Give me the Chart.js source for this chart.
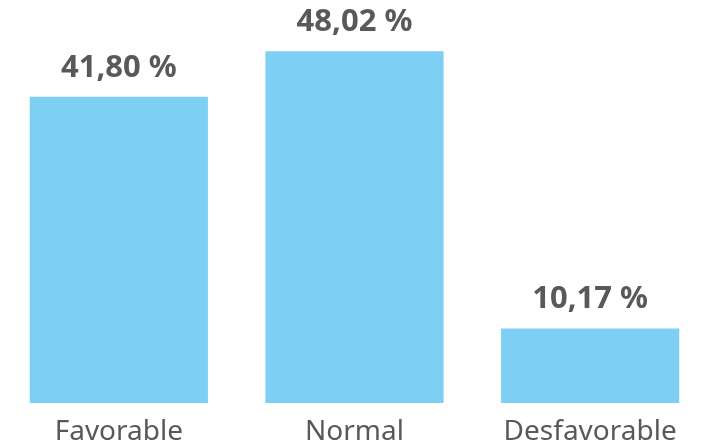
<!DOCTYPE html>
<html>
<head>
<meta charset="utf-8">
<script src="https://cdn.jsdelivr.net/npm/chart.js@4"></script>
<style>
html,body{margin:0;padding:0;background:#fff;}
#wrap{width:709px;height:444px;position:relative;}
</style>
</head>
<body>
<div id="wrap"><canvas id="c"></canvas></div>
<script>
const categories = ["Favorable", "Normal", "Desfavorable"];
const values = [41.80, 48.02, 10.17];
const valueLabels = ["41,80 %", "48,02 %", "10,17 %"];

const FONT = "'Noto Sans', 'Open Sans', sans-serif";

const valueLabelPlugin = {
  id: 'valueLabels',
  afterDatasetsDraw(chart) {
    const ctx = chart.ctx;
    const meta = chart.getDatasetMeta(0);
    ctx.save();
    ctx.font = "bold 31px " + FONT;
    ctx.fillStyle = "#595959";
    ctx.textAlign = "center";
    ctx.textBaseline = "alphabetic";
    meta.data.forEach((bar, i) => {
      ctx.fillText(valueLabels[i], bar.x, bar.y - 20);
    });
    ctx.restore();
  }
};

new Chart(document.getElementById('c'), {
  type: 'bar',
  data: {
    labels: categories,
    datasets: [{
      data: values,
      backgroundColor: '#7DCFF4',
      borderWidth: 0,
      categoryPercentage: 0.756,
      barPercentage: 1.0
    }]
  },
  options: {
    responsive: true,
    maintainAspectRatio: false,
    animation: false,
    layout: { padding: { top: 0, left: 1, right: 1, bottom: 0 } },
    plugins: { legend: { display: false }, tooltip: { enabled: false } },
    scales: {
      x: {
        grid: { display: false, drawTicks: false },
        border: { display: false },
        ticks: { color: '#595959', font: { family: FONT, size: 28 }, padding: 12 },
        afterFit(scale) { scale.height = 41; }
      },
      y: {
        display: false,
        min: 0,
        max: 55
      }
    }
  },
  plugins: [valueLabelPlugin]
});
</script>
</body>
</html>
